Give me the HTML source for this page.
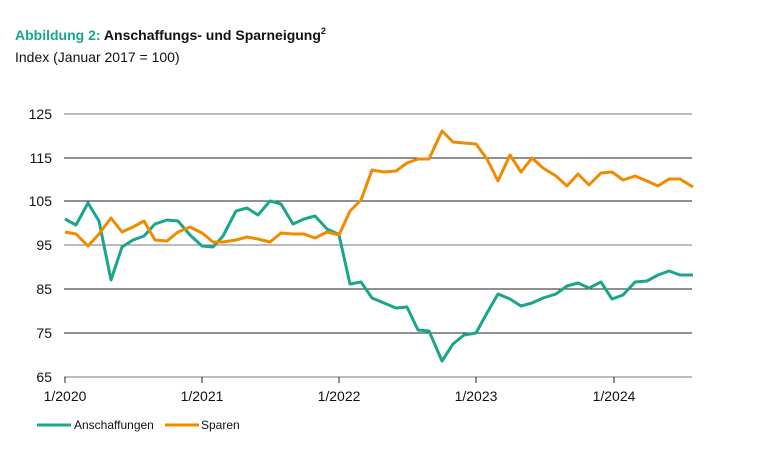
<!DOCTYPE html>
<html><head><meta charset="utf-8"><style>
body{margin:0;background:#fff;width:778px;height:468px;overflow:hidden;font-family:"Liberation Sans",sans-serif}
</style></head><body>
<svg width="778" height="468" xmlns="http://www.w3.org/2000/svg" font-family="Liberation Sans, sans-serif">
<text x="15" y="40" font-size="14" font-weight="bold" fill="#1aa58c">Abbildung 2: <tspan fill="#111">Anschaffungs- und Sparneigung</tspan><tspan fill="#111" font-size="9" dy="-6">2</tspan></text>
<text x="15" y="62" font-size="14" fill="#111">Index (Januar 2017 = 100)</text>
<g stroke="#222" stroke-width="1">
<line x1="64" y1="114" x2="692" y2="114" stroke="#777"/>
<line x1="64" y1="158" x2="692" y2="158"/>
<line x1="64" y1="201" x2="692" y2="201"/>
<line x1="64" y1="245" x2="692" y2="245" stroke="#777"/>
<line x1="64" y1="289" x2="692" y2="289"/>
<line x1="64" y1="333" x2="692" y2="333"/>
<line x1="64" y1="377" x2="692" y2="377" stroke="#777"/>
<line x1="65" y1="377" x2="65" y2="383"/><line x1="202" y1="377" x2="202" y2="383"/><line x1="339" y1="377" x2="339" y2="383"/><line x1="476" y1="377" x2="476" y2="383"/><line x1="614" y1="377" x2="614" y2="383"/>
</g>
<g font-size="14" fill="#111" text-anchor="end">
<text x="52" y="119">125</text><text x="52" y="163">115</text><text x="52" y="206">105</text><text x="52" y="250">95</text><text x="52" y="294">85</text><text x="52" y="338">75</text><text x="52" y="382">65</text>
</g>
<g font-size="14" fill="#111" text-anchor="middle">
<text x="65" y="401">1/2020</text><text x="202" y="401">1/2021</text><text x="339" y="401">1/2022</text><text x="476" y="401">1/2023</text><text x="614" y="401">1/2024</text>
</g>
<polyline fill="none" stroke="#1aa58c" stroke-width="3" stroke-linejoin="round" points="65,219 76,225 88,203 99,221 111,280 122,247 133,240 144,236 155,224 167,220 178,221 190,235 202,246 213,247 223,236 236,211 247,208 258,215 270,201 281,204 293,224 304,219 315,216 327,229 338,234 339,235 350,284 361,282 372,298 384,303 396,308 407,307 418,330 429,331 442,361 453,344 464,335 476,333 487,313 498,294 510,299 521,306 532,303 543,298 556,294 567,286 578,283 589,288 601,282 612,299 623,295 635,282 647,281 658,275 669,271 680,275 693,275"/>
<polyline fill="none" stroke="#f08a00" stroke-width="3" stroke-linejoin="round" points="65,232 76,234 88,246 99,234 111,218 122,232 133,227 144,221 155,240 167,241 178,232 190,227 202,233 213,242 223,242 236,240 247,237 258,239 270,242 281,233 293,234 304,234 315,238 327,232 339,235 350,211 361,200 372,170 384,172 396,171 407,163 418,159 429,159 442,131 453,142 464,143 476,144 487,159 498,181 510,155 521,172 532,158 543,168 556,176 567,186 578,174 589,185 601,173 612,172 623,180 635,176 647,181 658,186 669,179 680,179 693,187"/>
<line x1="37" y1="425" x2="71" y2="425" stroke="#1aa58c" stroke-width="3"/>
<text x="74" y="429" font-size="12" fill="#111">Anschaffungen</text>
<line x1="165" y1="425" x2="199" y2="425" stroke="#f08a00" stroke-width="3"/>
<text x="201" y="429" font-size="12" fill="#111">Sparen</text>
</svg>
</body></html>
